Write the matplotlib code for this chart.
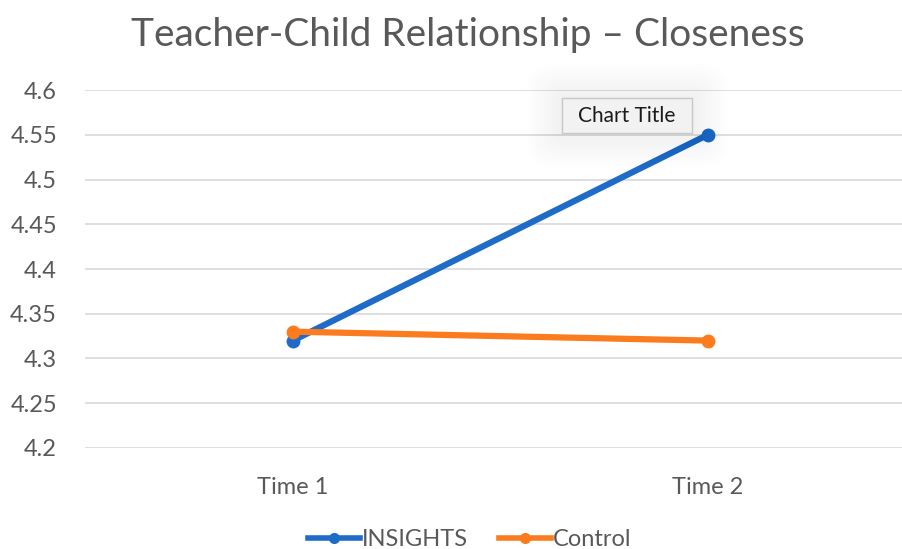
import matplotlib.pyplot as plt
from matplotlib.lines import Line2D
from matplotlib.patches import FancyBboxPatch

categories = ["Time 1", "Time 2"]
insights = [4.32, 4.55]
control = [4.33, 4.32]
y_ticks = [4.2, 4.25, 4.3, 4.35, 4.4, 4.45, 4.5, 4.55, 4.6]
y_labels = ["4.2", "4.25", "4.3", "4.35", "4.4", "4.45", "4.5", "4.55", "4.6"]

blue = "#1f6cc8"
orange = "#fb7b1f"
grey = "#595959"

plt.rcParams['font.family'] = ['Lato', 'DejaVu Sans']

fig = plt.figure(figsize=(9.03, 5.49), dpi=100)
ax = fig.add_axes([0.094, 0.184, 0.906, 0.652])

x = list(range(len(categories)))
ax.plot(x, insights, color=blue, lw=4.5, marker='o', ms=9, solid_capstyle='round', zorder=3)
ax.plot(x, control, color=orange, lw=4.5, marker='o', ms=9, solid_capstyle='round', zorder=4)

ax.set_xlim(-0.501, 1.47)
ax.set_ylim(4.2, 4.6)
ax.set_yticks(y_ticks)
ax.set_yticklabels(y_labels)
ax.set_xticks(x)
ax.set_xticklabels(categories)
ax.tick_params(axis='both', length=0, labelsize=17, labelcolor=grey)
ax.tick_params(axis='y', pad=20)
ax.tick_params(axis='x', pad=21)
ax.grid(axis='y', color='#d9d9d9', lw=1.2)
ax.set_axisbelow(True)
for s in ax.spines.values():
    s.set_visible(False)

fig.text(0.518, 0.937, "Teacher-Child Relationship \u2013 Closeness", ha='center', va='center',
         fontsize=28, color=grey)

# tooltip with a soft glow around it
bx, by, bw, bh = 562 / 903, 1 - 133 / 549, 130 / 903, 35 / 549
for i in range(14):
    g = (i + 1) * 2.5
    fig.patches.append(FancyBboxPatch((bx - g / 903, by - g / 549), bw + 2 * g / 903, bh + 2 * g / 549,
                                      boxstyle='round,pad=0,rounding_size=%f' % (g / 903),
                                      transform=fig.transFigure, fc='#000000', ec='none',
                                      alpha=0.005, zorder=8))
fig.patches.append(FancyBboxPatch((bx, by), bw, bh, boxstyle='square,pad=0',
                                  transform=fig.transFigure, fc='#f2f2f2', ec='#c8c8c8',
                                  lw=1, zorder=9))
fig.text(bx + bw / 2, by + bh / 2, "Chart Title", ha='center', va='center', fontsize=15,
         color='#1a1a1a', zorder=10)

handles = [Line2D([0], [0], color=blue, lw=4, marker='o', ms=7),
           Line2D([0], [0], color=orange, lw=4, marker='o', ms=7)]
fig.legend(handles, ["INSIGHTS", "Control"], loc='center', bbox_to_anchor=(0.52, 0.017),
           ncol=2, frameon=False, fontsize=17, labelcolor=grey, handlelength=2.2,
           handletextpad=0.1, columnspacing=1.3)

fig.savefig("out.png", dpi=100)
